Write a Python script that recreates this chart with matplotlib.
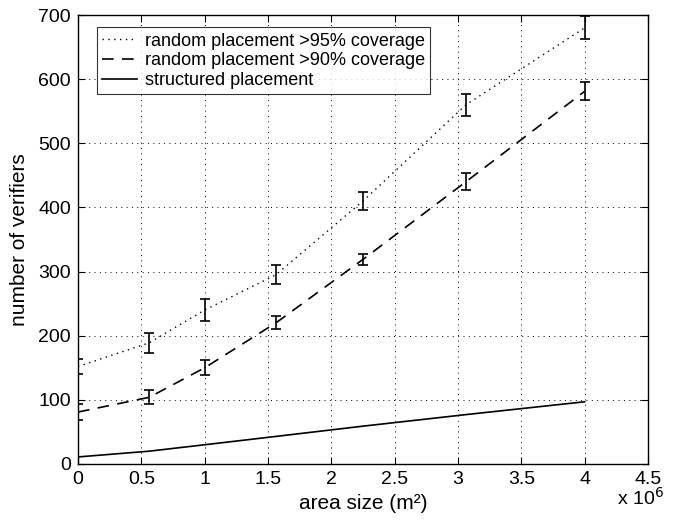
import matplotlib
matplotlib.use('Agg')
from matplotlib import pyplot as plt
from matplotlib.ticker import FuncFormatter

# area sizes in m^2 (side lengths 0, 750, 1000, 1250, 1500, 1750, 2000 m)
areas = [0, 562500, 1000000, 1562500, 2250000, 3062500, 4000000]

# random placement, >95% coverage
cov95 = [152, 189, 240, 295, 410, 560, 680]
cov95_err = [12, 16, 17, 15, 14, 17, 18]

# random placement, >90% coverage
cov90 = [81, 104, 150, 220, 319, 440, 581]
cov90_err = [12, 11, 12, 10, 9, 13, 14]

# structured placement
structured = [11, 20, 30, 43, 59, 77, 97]

x_ticks = [0, 0.5e6, 1e6, 1.5e6, 2e6, 2.5e6, 3e6, 3.5e6, 4e6, 4.5e6]
y_ticks = [0, 100, 200, 300, 400, 500, 600, 700]

plt.rcParams['font.family'] = ['Liberation Sans', 'DejaVu Sans']

fig = plt.figure(figsize=(6.73, 5.20), dpi=100)
ax = fig.add_axes([78 / 673, 56 / 520, 570 / 673, 449 / 520])

# lines (these go in the legend)
ax.plot(areas, cov95, color='black', lw=1.0, dashes=(1, 3.2),
        label='random placement >95% coverage')
ax.plot(areas, cov90, color='black', lw=1.2, dashes=(7, 5),
        label='random placement >90% coverage')
ax.plot(areas, structured, color='black', lw=1.2, label='structured placement')

# error bars
ax.errorbar(areas, cov95, yerr=cov95_err, fmt='none', ecolor='black',
            capsize=3.5, elinewidth=1.2, capthick=1.2)
ax.errorbar(areas, cov90, yerr=cov90_err, fmt='none', ecolor='black',
            capsize=3.5, elinewidth=1.2, capthick=1.2)

ax.set_xlim(0, 4.5e6)
ax.set_ylim(0, 700)
ax.set_xticks(x_ticks)
ax.set_yticks(y_ticks)
ax.xaxis.set_major_formatter(FuncFormatter(lambda v, p: '%g' % (v / 1e6)))
ax.tick_params(direction='in', top=True, right=True, labelsize=14,
               length=5, width=0.8, pad=5)
ax.grid(True, color='black', linestyle=(0, (1, 4.5)), linewidth=0.7)
for s in ax.spines.values():
    s.set_linewidth(1.0)

ax.set_xlabel('area size (m²)', fontsize=15, va='center')
ax.xaxis.set_label_coords(0.5, -0.087)
ax.set_ylabel('number of verifiers', fontsize=15, va='center')
ax.yaxis.set_label_coords(-0.102, 0.5)
fig.text(0.952, 0.022, 'x 10$^{6}$', fontsize=14, ha='center', va='bottom')

leg = ax.legend(loc='upper left', bbox_to_anchor=(0.033, 0.973), fontsize=13,
                frameon=True, fancybox=False, edgecolor='black',
                handlelength=1.9, labelspacing=0.15, borderpad=0.3,
                borderaxespad=0, handletextpad=0.45)
leg.get_frame().set_linewidth(0.8)

fig.savefig('out.png', dpi=100)
